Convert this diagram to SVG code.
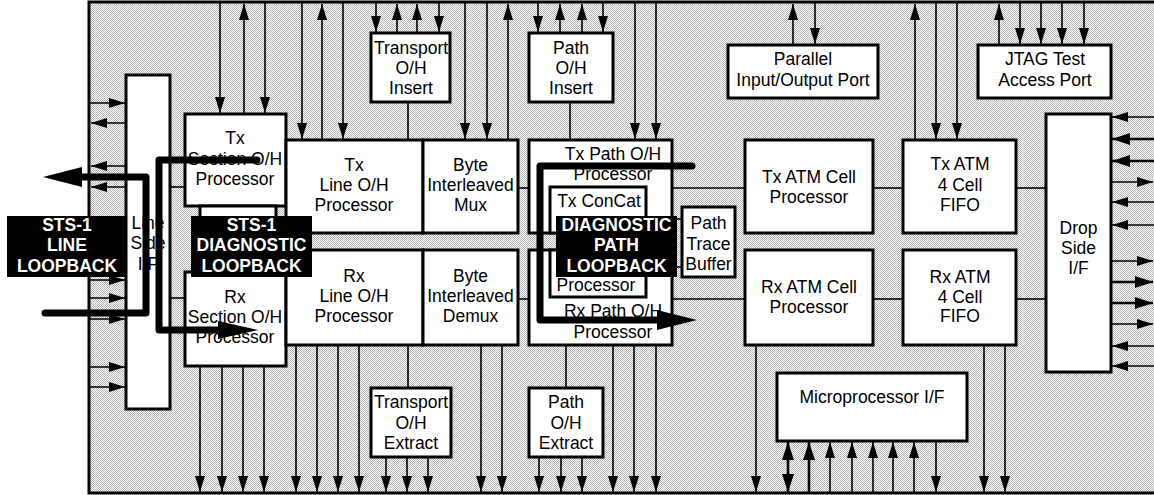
<svg xmlns="http://www.w3.org/2000/svg" width="1154" height="495" viewBox="0 0 1154 495">
<defs>
<pattern id="dots" width="2" height="2" patternUnits="userSpaceOnUse">
<rect width="2" height="2" fill="#ffffff"/>
<rect width="1" height="1" fill="#b4b4b4"/>
<rect x="1" y="1" width="1" height="1" fill="#b4b4b4"/>
</pattern>
<marker id="ah" viewBox="0 0 16 10" refX="16" refY="5" markerWidth="16" markerHeight="10" markerUnits="userSpaceOnUse" orient="auto-start-reverse"><path d="M0,0L16,5L0,10z" fill="#000"/></marker>
<marker id="ahb" viewBox="0 0 18 12" refX="18" refY="6" markerWidth="18" markerHeight="12" markerUnits="userSpaceOnUse" orient="auto-start-reverse"><path d="M0,0L18,6L0,12z" fill="#000"/></marker>
</defs>
<style>
.box{fill:#fff;stroke:#000;stroke-width:3}
.t{font-family:"Liberation Sans",Arial,sans-serif;font-size:17.5px;text-anchor:middle;fill:#000}
.c{stroke:#000;stroke-width:1.6;fill:none}
.a{stroke:#000;stroke-width:1.6;fill:none;marker-end:url(#ah)}
.ab{stroke:#000;stroke-width:2.6;fill:none;marker-end:url(#ahb)}
.loop{stroke:#000;stroke-width:7;fill:none;stroke-linecap:round;stroke-linejoin:round}
.lbl{fill:#000}
.lt{font-family:"Liberation Sans",Arial,sans-serif;font-size:17.5px;font-weight:bold;text-anchor:middle;fill:#fff}
</style>
<rect id="chip" x="89" y="2" width="1080" height="491" fill="url(#dots)" stroke="#000" stroke-width="3"/>

<g id="connectors">
<line class="c" x1="170" y1="187" x2="185" y2="187"/>
<line class="c" x1="170" y1="298" x2="185" y2="298"/>
<line class="c" x1="518" y1="188" x2="529" y2="188"/>
<line class="c" x1="518" y1="299" x2="529" y2="299"/>
<line class="c" x1="672" y1="188" x2="745" y2="188"/>
<line class="c" x1="672" y1="299" x2="745" y2="299"/>
<line class="c" x1="873" y1="188" x2="903" y2="188"/>
<line class="c" x1="873" y1="299" x2="903" y2="299"/>
<line class="c" x1="1016" y1="188" x2="1046" y2="188"/>
<line class="c" x1="1016" y1="299" x2="1046" y2="299"/>
<line class="c" x1="672" y1="219" x2="682" y2="219"/>
<line class="c" x1="672" y1="267" x2="682" y2="267"/>
<line class="c" x1="408" y1="102" x2="408" y2="140"/>
<line class="c" x1="570" y1="102" x2="570" y2="140"/>
<line class="c" x1="408" y1="345" x2="408" y2="388"/>
<line class="c" x1="566" y1="345" x2="566" y2="388"/>
<line class="a" x1="220" y1="2" x2="220" y2="113"/>
<line class="a" x1="265" y1="2" x2="265" y2="113"/>
<line class="a" x1="244" y1="113" x2="244" y2="4"/>
<line class="a" x1="302" y1="2" x2="302" y2="139"/>
<line class="a" x1="343" y1="2" x2="343" y2="139"/>
<line class="a" x1="465" y1="2" x2="465" y2="139"/>
<line class="a" x1="487" y1="2" x2="487" y2="139"/>
<line class="a" x1="635" y1="2" x2="635" y2="139"/>
<line class="a" x1="656" y1="2" x2="656" y2="139"/>
<line class="a" x1="936" y1="2" x2="936" y2="139"/>
<line class="a" x1="957" y1="2" x2="957" y2="139"/>
<line class="a" x1="322" y1="139" x2="322" y2="4"/>
<line class="a" x1="508" y1="139" x2="508" y2="4"/>
<line class="a" x1="915" y1="139" x2="915" y2="4"/>
<line class="a" x1="376" y1="2" x2="376" y2="32"/>
<line class="a" x1="439" y1="2" x2="439" y2="32"/>
<line class="a" x1="538" y1="2" x2="538" y2="32"/>
<line class="a" x1="603" y1="2" x2="603" y2="32"/>
<line class="a" x1="397" y1="32" x2="397" y2="4"/>
<line class="a" x1="417" y1="32" x2="417" y2="4"/>
<line class="a" x1="560" y1="32" x2="560" y2="4"/>
<line class="a" x1="582" y1="32" x2="582" y2="4"/>
<line class="a" x1="815" y1="2" x2="815" y2="44"/>
<line class="a" x1="1020" y1="2" x2="1020" y2="44"/>
<line class="a" x1="1041" y1="2" x2="1041" y2="44"/>
<line class="a" x1="1062" y1="2" x2="1062" y2="44"/>
<line class="a" x1="1084" y1="2" x2="1084" y2="44"/>
<line class="a" x1="793" y1="44" x2="793" y2="4"/>
<line class="a" x1="999" y1="44" x2="999" y2="4"/>
<line class="a" x1="200" y1="366" x2="200" y2="492"/>
<line class="a" x1="222" y1="366" x2="222" y2="492"/>
<line class="a" x1="243" y1="366" x2="243" y2="492"/>
<line class="a" x1="264" y1="366" x2="264" y2="492"/>
<line class="a" x1="296" y1="345" x2="296" y2="492"/>
<line class="a" x1="317" y1="345" x2="317" y2="492"/>
<line class="a" x1="338" y1="345" x2="338" y2="492"/>
<line class="a" x1="359" y1="345" x2="359" y2="492"/>
<line class="a" x1="481" y1="345" x2="481" y2="492"/>
<line class="a" x1="502" y1="345" x2="502" y2="492"/>
<line class="a" x1="613" y1="345" x2="613" y2="492"/>
<line class="a" x1="634" y1="345" x2="634" y2="492"/>
<line class="a" x1="656" y1="345" x2="656" y2="492"/>
<line class="a" x1="756" y1="345" x2="756" y2="492"/>
<line class="a" x1="984" y1="345" x2="984" y2="492"/>
<line class="a" x1="1005" y1="345" x2="1005" y2="492"/>
<line class="a" x1="386" y1="457" x2="386" y2="492"/>
<line class="a" x1="407" y1="457" x2="407" y2="492"/>
<line class="a" x1="428" y1="457" x2="428" y2="492"/>
<line class="a" x1="539" y1="457" x2="539" y2="492"/>
<line class="a" x1="561" y1="457" x2="561" y2="492"/>
<line class="a" x1="582" y1="457" x2="582" y2="492"/>
<line class="a" x1="936" y1="441" x2="936" y2="492"/>
<line class="a" x1="830" y1="493" x2="830" y2="442"/>
<line class="a" x1="852" y1="493" x2="852" y2="442"/>
<line class="a" x1="873" y1="493" x2="873" y2="442"/>
<line class="a" x1="893" y1="493" x2="893" y2="442"/>
<line class="a" x1="914" y1="493" x2="914" y2="442"/>
<line class="ab" x1="809" y1="493" x2="809" y2="442"/>
<line class="ab" x1="788" y1="442" x2="788" y2="492" style="marker-start:url(#ahb)"/>
<line class="a" x1="89" y1="103" x2="125" y2="103"/>
<line class="a" x1="89" y1="280" x2="125" y2="280"/>
<line class="a" x1="89" y1="298" x2="125" y2="298"/>
<line class="a" x1="89" y1="319" x2="125" y2="319"/>
<line class="a" x1="89" y1="367" x2="125" y2="367"/>
<line class="a" x1="89" y1="387" x2="125" y2="387"/>
<line class="a" x1="126" y1="123" x2="91" y2="123"/>
<line class="a" x1="126" y1="166" x2="91" y2="166"/>
<line class="a" x1="126" y1="187" x2="91" y2="187"/>
<line class="a" x1="1154" y1="117" x2="1112" y2="117"/>
<line class="ab" x1="1154" y1="139" x2="1112" y2="139"/>
<line class="ab" x1="1154" y1="161" x2="1112" y2="161"/>
<line class="a" x1="1154" y1="202" x2="1112" y2="202"/>
<line class="a" x1="1154" y1="225" x2="1112" y2="225"/>
<line class="a" x1="1154" y1="346" x2="1112" y2="346"/>
<line class="a" x1="1154" y1="366" x2="1112" y2="366"/>
<line class="a" x1="1111" y1="182" x2="1153" y2="182"/>
<line class="a" x1="1111" y1="261" x2="1153" y2="261"/>
<line class="ab" x1="1111" y1="282" x2="1153" y2="282"/>
<line class="ab" x1="1111" y1="303" x2="1153" y2="303"/>
<line class="a" x1="1111" y1="324" x2="1153" y2="324"/>
</g>

<g id="line-side-if"><rect class="box" x="126" y="75" width="44" height="334"/>
<text class="t" x="148" y="229">Line</text><text class="t" x="148" y="249">Side</text><text class="t" x="148" y="270">I/F</text></g>
<g id="tx-section"><rect class="box" x="185" y="114" width="101" height="92"/>
<text class="t" x="235" y="144">Tx</text><text class="t" x="235" y="164.5">Section O/H</text><text class="t" x="235" y="185">Processor</text></g>
<g id="section-mid"><rect class="box" x="200" y="206" width="76" height="66"/></g>
<g id="rx-section"><rect class="box" x="185" y="272" width="101" height="94"/>
<text class="t" x="235" y="303">Rx</text><text class="t" x="235" y="323">Section O/H</text><text class="t" x="235" y="343">Processor</text></g>
<g id="tx-line"><rect class="box" x="286" y="140" width="137" height="93"/>
<text class="t" x="354" y="171">Tx</text><text class="t" x="354" y="191">Line O/H</text><text class="t" x="354" y="211">Processor</text></g>
<g id="mux"><rect class="box" x="423" y="140" width="95" height="93"/>
<text class="t" x="470.5" y="171">Byte</text><text class="t" x="470.5" y="191">Interleaved</text><text class="t" x="470.5" y="211">Mux</text></g>
<g id="rx-line"><rect class="box" x="286" y="250" width="137" height="95"/>
<text class="t" x="354" y="282">Rx</text><text class="t" x="354" y="302">Line O/H</text><text class="t" x="354" y="322">Processor</text></g>
<g id="demux"><rect class="box" x="423" y="250" width="95" height="95"/>
<text class="t" x="470.5" y="282">Byte</text><text class="t" x="470.5" y="302">Interleaved</text><text class="t" x="470.5" y="322">Demux</text></g>
<g id="transport-insert"><rect class="box" x="371" y="33" width="79" height="69"/>
<text class="t" x="411" y="53.5">Transport</text><text class="t" x="411" y="73.5">O/H</text><text class="t" x="411" y="93.5">Insert</text></g>
<g id="path-insert"><rect class="box" x="529" y="33" width="84" height="69"/>
<text class="t" x="571" y="53.5">Path</text><text class="t" x="571" y="73.5">O/H</text><text class="t" x="571" y="93.5">Insert</text></g>
<g id="tx-path"><rect class="box" x="529" y="140" width="143" height="93"/>
<text class="t" x="613" y="160">Tx Path O/H</text><text class="t" x="613" y="180">Processor</text></g>
<g id="tx-concat"><rect class="box" x="550" y="187" width="96" height="46"/>
<text class="t" x="599" y="207">Tx ConCat</text></g>
<g id="rx-path"><rect class="box" x="529" y="250" width="143" height="95"/>
<text class="t" x="613" y="317">Rx Path O/H</text><text class="t" x="613" y="337.5">Processor</text></g>
<g id="rx-concat"><rect class="box" x="550" y="250" width="96" height="47"/>
<text class="t" x="596" y="291">Processor</text></g>
<g id="path-trace"><rect class="box" x="682" y="207" width="53" height="70"/>
<text class="t" x="708.5" y="228.5">Path</text><text class="t" x="708.5" y="249.5">Trace</text><text class="t" x="708.5" y="270">Buffer</text></g>
<g id="tx-atm"><rect class="box" x="745" y="140" width="128" height="93"/>
<text class="t" x="809" y="183">Tx ATM Cell</text><text class="t" x="809" y="203">Processor</text></g>
<g id="rx-atm"><rect class="box" x="745" y="250" width="128" height="95"/>
<text class="t" x="809" y="293">Rx ATM Cell</text><text class="t" x="809" y="313">Processor</text></g>
<g id="parallel"><rect class="box" x="728" y="45" width="150" height="53"/>
<text class="t" x="803" y="65">Parallel</text><text class="t" x="803" y="85.5">Input/Output Port</text></g>
<g id="tx-fifo"><rect class="box" x="903" y="140" width="113" height="93"/>
<text class="t" x="960" y="170">Tx ATM</text><text class="t" x="960" y="191">4 Cell</text><text class="t" x="960" y="211">FIFO</text></g>
<g id="rx-fifo"><rect class="box" x="903" y="250" width="113" height="95"/>
<text class="t" x="960" y="282.5">Rx ATM</text><text class="t" x="960" y="302.5">4 Cell</text><text class="t" x="960" y="322">FIFO</text></g>
<g id="jtag"><rect class="box" x="978" y="45" width="133" height="53"/>
<text class="t" x="1045" y="65">JTAG Test</text><text class="t" x="1045" y="85.5">Access Port</text></g>
<g id="drop-side-if"><rect class="box" x="1046" y="114" width="65" height="258"/>
<text class="t" x="1078.5" y="234">Drop</text><text class="t" x="1078.5" y="254">Side</text><text class="t" x="1078.5" y="274">I/F</text></g>
<g id="transport-extract"><rect class="box" x="371" y="388" width="80" height="69"/>
<text class="t" x="411" y="408">Transport</text><text class="t" x="411" y="428.5">O/H</text><text class="t" x="411" y="449">Extract</text></g>
<g id="path-extract"><rect class="box" x="529" y="388" width="74" height="69"/>
<text class="t" x="566" y="408">Path</text><text class="t" x="566" y="428.5">O/H</text><text class="t" x="566" y="449">Extract</text></g>
<g id="microprocessor"><rect class="box" x="777" y="373" width="190" height="68"/>
<text class="t" x="872" y="403">Microprocessor I/F</text></g>

<g id="loopbacks">
<path class="loop" d="M45,313 H146 V177 H80"/>
<polygon points="82,167 43,177 82,187" fill="#000"/>
<path class="loop" d="M257,160 H159 V330 H220"/>
<polygon points="218,321 258,330 218,339" fill="#000"/>
<path class="loop" d="M692,166 H540 V320 H659"/>
<polygon points="657,310 697,320 657,330" fill="#000"/>
</g>

<g id="label-line-loopback"><rect class="lbl" x="7" y="216" width="120" height="61"/>
<text class="lt" x="67" y="230.5">STS-1</text><text class="lt" x="67" y="251">LINE</text><text class="lt" x="67" y="272">LOOPBACK</text></g>
<g id="label-diag-loopback"><rect class="lbl" x="191" y="216" width="121" height="61"/>
<text class="lt" x="251.5" y="230.5">STS-1</text><text class="lt" x="251.5" y="251">DIAGNOSTIC</text><text class="lt" x="251.5" y="272">LOOPBACK</text></g>
<g id="label-path-loopback"><rect class="lbl" x="556" y="216" width="121" height="61"/>
<text class="lt" x="616.5" y="230.5">DIAGNOSTIC</text><text class="lt" x="616.5" y="251">PATH</text><text class="lt" x="616.5" y="272">LOOPBACK</text></g>
</svg>
